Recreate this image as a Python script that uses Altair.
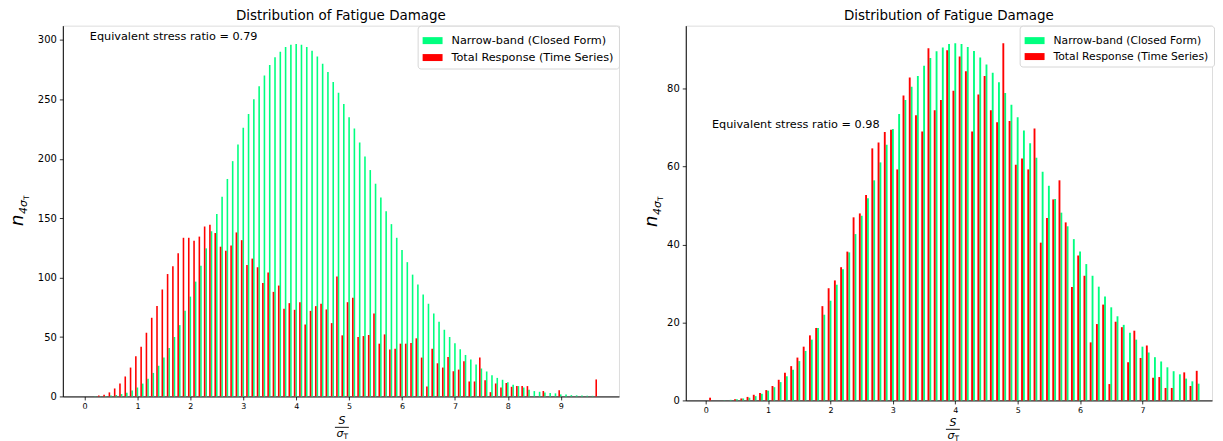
import altair as alt
import pandas as pd

FONT = "DejaVu Sans"
GREEN = "#00FF7F"
RED = "#FF0000"
S1 = "Narrow-band (Closed Form)"
S2 = "Total Response (Time Series)"
TITLE = "Distribution of Fatigue Damage"

# ---------------- left panel data (bins 0.2 .. 9.7, step 0.1) ----------------
left_bins = [round(0.2 + 0.1 * i, 1) for i in range(96)]
left_green = [0.1, 0.2, 0.4, 0.7, 1.2, 2.0, 3.2, 5.0,
              7.5, 10.8, 14.8, 19.8, 25.8, 32.8, 40.8, 50, 60, 72,
              84, 96.6, 110, 124.6, 139, 153.6, 168, 183, 198, 212,
              226, 237.7, 250, 261, 270, 279, 285.5, 290, 294, 296,
              296.6, 296, 294, 290.8, 286, 280, 273, 264.5, 255.6, 246,
              235, 225.4, 213.7, 202, 190.5, 179, 167.3, 155.9, 145, 133.5,
              123.2, 113, 102.5, 94.1, 85.8, 78, 69.8, 62.8, 56.1, 50,
              44.7, 39.7, 34.9, 31, 26.8, 23.5, 21, 17.9, 15.6, 14,
              12, 9.8, 8.7, 7.5, 5.6, 4.5, 3.9, 3.4, 2.8, 2.6,
              1.7, 1.6, 1.1, 0.9, 0.8, 0.6, 0.5, 0]
left_red = [0, 0.8, 1.4, 3.4, 6.7, 10.9, 16.8, 24.3,
            33.8, 41.9, 53.6, 66.2, 76, 90, 103, 109.5, 120.5, 133.5,
            133.5, 131, 134.5, 143, 144.5, 137.5, 126, 122.6, 127, 138,
            131.5, 110.6, 116, 108.7, 95.5, 104.2, 88, 93.3, 73.7, 78.5,
            72.9, 79.3, 60.6, 72, 76, 78, 73.2, 61.7, 101, 51.4,
            79.3, 83, 50, 50.8, 51.7, 69.8, 44.4, 52.2, 39.4, 40.2,
            44.4, 44.4, 45, 48.9, 32.7, 8.4, 40.2, 27.9, 24.3, 33.2,
            21.2, 22.6, 29.6, 12.6, 12.6, 32.7, 13.7, 3.6, 10.9, 7.5,
            11.3, 8.1, 8.7, 8.7, 8.7, 0, 0, 4.6, 0, 0,
            5.3, 0, 0, 0, 0, 0, 0, 14.3]

# ---------------- right panel data (bins 0.1 .. 7.9, step 0.1) ----------------
right_bins = [round(0.1 + 0.1 * i, 1) for i in range(79)]
right_green = [0, 0, 0.05, 0.15, 0.3, 0.5, 0.7, 1.1, 1.7,
               2.5, 3.4, 4.7, 6.2, 7.9, 10.1, 12.7, 15.6, 18.6, 22,
               25.6, 29.7, 33.7, 38, 42.7, 47.4, 51.9, 56.5, 61.1, 65.6,
               69.7, 73.5, 77.1, 80.5, 83.3, 85.9, 87.9, 89.6, 90.6, 91.5,
               91.7, 91.5, 90.7, 89.7, 88, 86.2, 84.1, 81.7, 78.9, 75.9,
               72.7, 69.3, 66, 62.3, 58.7, 55.1, 51.7, 48.2, 44.7, 41.4,
               38.2, 35, 32, 29.2, 26.7, 23.9, 21.6, 19.4, 17.4, 15.6,
               13.8, 12.3, 11.1, 10, 8.5, 7.5, 6.7, 5.6, 4.9, 4.3]
right_red = [0.7, 0, 0, 0, 0.3, 0.5, 0.9, 1.45, 1.9,
             2.65, 3.7, 5.3, 7.1, 8.8, 11, 13.8, 16.7, 18.6, 24.2,
             28.8, 30.8, 34.2, 38.2, 47, 48, 52.7, 64.7, 66.2, 68.9,
             69.5, 59.3, 78.3, 82.9, 73.2, 69, 90.4, 74.5, 77.1, 89.9,
             79.5, 88.3, 84.5, 69, 78.5, 83.3, 74.5, 71.4, 91.7, 71.7,
             60.5, 62.1, 59.3, 69.8, 40.5, 46.8, 51.6, 56.5, 45.7, 29.1,
             37.2, 32, 14.9, 19.6, 24.6, 4.2, 20.2, 18.8, 9.8, 17.9,
             10.9, 14.1, 5.8, 6, 3.2, 3.2, 0, 7.2, 3.7, 7.6]

left_xticks = [0, 1, 2, 3, 4, 5, 6, 7, 8, 9]
left_yticks = [0, 50, 100, 150, 200, 250, 300]
right_xticks = [0, 1, 2, 3, 4, 5, 6, 7]
right_yticks = [0, 20, 40, 60, 80]


def make_df(bins, green, red):
    rows = []
    for b, g, r in zip(bins, green, red):
        rows.append({"bin": b, "series": S1, "value": g})
        rows.append({"bin": b, "series": S2, "value": r})
    return pd.DataFrame(rows)


ONE = pd.DataFrame({"k": [0]})
RECT = "M-1,-0.35H1V0.35H-1Z"


def ytitle(xb, ystart):
    n = alt.Chart(ONE).mark_text(
        text="n", angle=270, fontSize=18, fontStyle="italic", font=FONT,
        align="left", baseline="alphabetic", color="#000"
    ).encode(x=alt.value(xb), y=alt.value(ystart))
    sub = alt.Chart(ONE).mark_text(
        text="4σ", angle=270, fontSize=11, fontStyle="italic", font=FONT,
        align="left", baseline="alphabetic", color="#000"
    ).encode(x=alt.value(xb + 4), y=alt.value(ystart - 12))
    t = alt.Chart(ONE).mark_text(
        text="T", angle=270, fontSize=7.5, font=FONT,
        align="left", baseline="alphabetic", color="#000"
    ).encode(x=alt.value(xb + 6), y=alt.value(ystart - 26))
    return [n, sub, t]


def xtitle(cx, ybase):
    s = alt.Chart(ONE).mark_text(
        text="S", fontSize=11, fontStyle="italic", font=FONT,
        align="center", baseline="alphabetic", color="#000"
    ).encode(x=alt.value(cx), y=alt.value(ybase))
    line = alt.Chart(ONE).mark_rule(color="#000", strokeWidth=0.9).encode(
        x=alt.value(cx - 7), x2=alt.value(cx + 7), y=alt.value(ybase + 3)
    )
    sig = alt.Chart(ONE).mark_text(
        text="σ", fontSize=11, fontStyle="italic", font=FONT,
        align="center", baseline="alphabetic", color="#000"
    ).encode(x=alt.value(cx - 2), y=alt.value(ybase + 13))
    t = alt.Chart(ONE).mark_text(
        text="T", fontSize=7.5, font=FONT,
        align="center", baseline="alphabetic", color="#000"
    ).encode(x=alt.value(cx + 4), y=alt.value(ybase + 15))
    return [s, line, sig, t]


def panel(bins, green, red, xdomain, ydomain, xticks, yticks, w, h,
          ratio_text, ratio_xy, legend_xy, legend_font, ytitle_pos,
          xtitle_pos):
    df = make_df(bins, green, red)
    xscale = alt.Scale(domain=xdomain, nice=False, zero=False)
    yscale = alt.Scale(domain=ydomain, nice=False, zero=True)
    bars = alt.Chart(df).transform_calculate(
        center="datum.bin - (datum.series == '%s' ? 0.03 : 0)" % S2
    ).transform_calculate(
        x0="datum.center - 0.015", x1="datum.center + 0.015", base="0"
    ).mark_bar(opacity=1, strokeWidth=0).encode(
        x=alt.X("x0:Q", scale=xscale, title=None,
                axis=alt.Axis(values=xticks, format="d", labelFontSize=8,
                              labelFont=FONT, labelColor="#000",
                              tickSize=3.5, labelPadding=3, grid=False,
                              domainColor="#000", tickColor="#000",
                              domainWidth=1, tickWidth=0.8)),
        x2="x1:Q",
        y=alt.Y("value:Q", scale=yscale, title=None,
                axis=alt.Axis(values=yticks, format="d", labelFontSize=10,
                              labelFont=FONT, labelColor="#000",
                              tickSize=3.5, labelPadding=3, grid=False,
                              domainColor="#000", tickColor="#000",
                              domainWidth=1, tickWidth=0.8)),
        y2="base:Q",
        color=alt.Color("series:N",
                        scale=alt.Scale(domain=[S1, S2], range=[GREEN, RED]),
                        legend=alt.Legend(
                            title=None, orient="none",
                            legendX=legend_xy[0], legendY=legend_xy[1],
                            symbolType=RECT, symbolSize=400,
                            symbolStrokeWidth=0, symbolOpacity=1,
                            labelFont=FONT, labelFontSize=legend_font,
                            labelColor="#000", labelOffset=9,
                            labelLimit=400,
                            rowPadding=1, padding=5,
                            strokeColor="#d6d6d6", fillColor="white",
                            cornerRadius=3)),
    )
    ann = alt.Chart(pd.DataFrame({"x": [ratio_xy[0]], "y": [ratio_xy[1]],
                                  "t": [ratio_text]})).mark_text(
        align="left", baseline="alphabetic", font=FONT, fontSize=11.3,
        color="#000"
    ).encode(x=alt.X("x:Q", scale=xscale), y=alt.Y("y:Q", scale=yscale),
             text="t:N")
    layers = [bars, ann] + ytitle(*ytitle_pos) + xtitle(*xtitle_pos)
    return alt.layer(*layers).properties(
        width=w, height=h,
        title=alt.TitleParams(TITLE, font=FONT, fontSize=13.5,
                              fontWeight="normal", color="#000", offset=2.5)
    )


left = panel(left_bins, left_green, left_red,
             [-0.41, 10.1], [0, 312], left_xticks, left_yticks, 558, 372,
             "Equivalent stress ratio = 0.79", (0.1, 300), (356, 0), 11.3,
             (-40, 201), (280, 400))
right = panel(right_bins, right_green, right_red,
              [-0.32, 8.115], [0, 96.2], right_xticks, right_yticks, 528, 376,
              "Equivalent stress ratio = 0.98", (0.1, 70), (335, 0), 10.8,
              (-29, 202), (268, 402))

chart = alt.hconcat(left, right, spacing=22).resolve_scale(
    x="independent", y="independent", color="independent"
).configure_view(stroke="#000", strokeWidth=1).configure(
    padding=0, background="white"
)

chart.save("out.html", embed_options={"renderer": "svg", "actions": False})
